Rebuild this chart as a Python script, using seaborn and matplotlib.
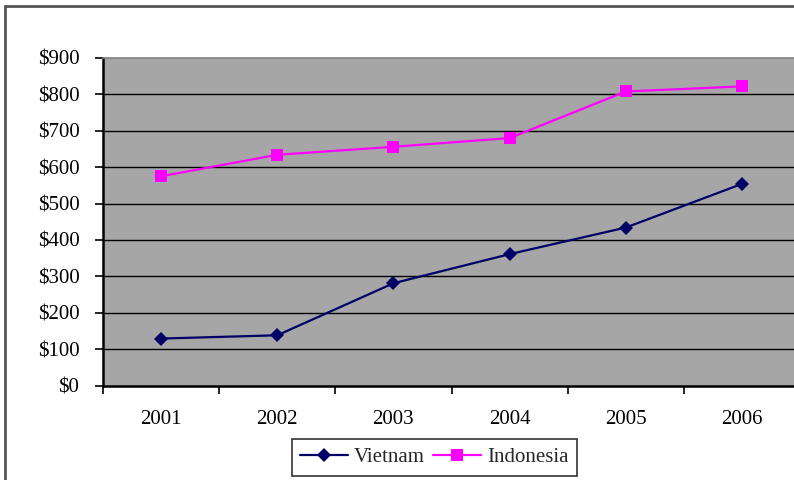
import matplotlib
matplotlib.use("Agg")
import matplotlib.pyplot as plt
from matplotlib.patches import Rectangle
from matplotlib.lines import Line2D
from matplotlib.ticker import FixedLocator, FuncFormatter
import seaborn as sns
import pandas as pd
import numpy as np

years = ["2001", "2002", "2003", "2004", "2005", "2006"]
vietnam = [129, 138, 281, 361, 434, 554]
indonesia = [575, 634, 656, 680, 808, 822]
series_names = ["Vietnam", "Indonesia"]
y_ticks = [0, 100, 200, 300, 400, 500, 600, 700, 800, 900]

df = pd.DataFrame({
    "pos": list(range(len(years))) * 2,
    "value": vietnam + indonesia,
    "country": [series_names[0]] * len(years) + [series_names[1]] * len(years),
})

sns.set_theme(style="white")
plt.rcParams["font.family"] = ["Liberation Serif", "DejaVu Serif"]

fig = plt.figure(figsize=(7.94, 4.8), dpi=100)
ax = fig.add_axes([103 / 794, 1 - 385.5 / 480, 697 / 794, (385.5 - 58) / 480])
ax.set_facecolor("#A6A6A6")

palette = {"Vietnam": "#000066", "Indonesia": "#FF00FF"}
markers = {"Vietnam": "D", "Indonesia": "s"}
sizes = {"Vietnam": 7, "Indonesia": 8}
sns.lineplot(data=df, x="pos", y="value", hue="country", style="country",
             palette=palette, markers=markers, dashes=False, linewidth=1.6,
             markersize=8, markeredgewidth=0, ax=ax, legend=False)
for line in ax.get_lines():
    if line.get_marker() == "D":
        line.set_markersize(sizes["Vietnam"])

ax.set_xlim(-0.5, len(years) - 0.5)
ax.set_ylim(0, 900)
ax.set_xlabel("")
ax.set_ylabel("")

# horizontal gridlines
for v in y_ticks[1:-1]:
    ax.axhline(v, color="black", linewidth=1.0, zorder=1)

ax.yaxis.set_major_locator(FixedLocator(y_ticks))
ax.yaxis.set_major_formatter(FuncFormatter(lambda v, p: f"${int(v)}"))
ax.tick_params(axis="y", which="major", direction="out", length=6, width=1.2,
               color="black", labelsize=15, labelcolor="black", left=True, pad=11)

# year labels centred on categories, ticks at category boundaries
ax.xaxis.set_major_locator(FixedLocator(np.arange(-0.5, len(years), 1.0)))
ax.xaxis.set_major_formatter(FuncFormatter(lambda v, p: ""))
ax.xaxis.set_minor_locator(FixedLocator(range(len(years))))
ax.set_xticklabels(years, minor=True)
ax.tick_params(axis="x", which="major", direction="out", length=6, width=1.2,
               color="black", bottom=True)
ax.tick_params(axis="x", which="minor", length=0, labelsize=15, pad=18,
               labelcolor="black")

for side in ["left", "bottom"]:
    ax.spines[side].set_visible(True)
    ax.spines[side].set_color("black")
    ax.spines[side].set_linewidth(1.8)
ax.spines["top"].set_color("#808080")
ax.spines["top"].set_linewidth(1.2)
ax.spines["right"].set_visible(False)

# legend
handles = [
    Line2D([], [], color=palette[n], marker=markers[n], markersize=sizes[n],
           markeredgewidth=0, linewidth=1.6)
    for n in series_names
]
leg = fig.legend(handles, series_names, loc="center", bbox_to_anchor=(434.5 / 794, 1 - 457.5 / 480),
                 ncol=2, frameon=True, fancybox=False, fontsize=15, handlelength=2.3,
                 handletextpad=0.3, columnspacing=0.4, borderpad=0.4, borderaxespad=0)
leg.get_frame().set_edgecolor("black")
leg.get_frame().set_linewidth(1.2)

# outer chart border
fig.patches.append(Rectangle((5 / 794, -0.05), 1.1, 1 - 6 / 480 + 0.05, transform=fig.transFigure,
                             fill=False, edgecolor="#555555", linewidth=2))

fig.savefig("out.png", dpi=100, facecolor="white")
